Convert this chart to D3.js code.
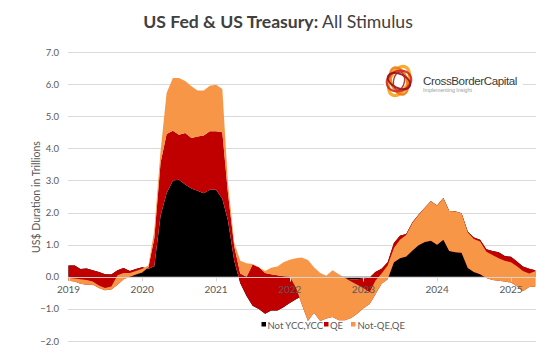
<!DOCTYPE html>
<html><head><meta charset="utf-8">
<script src="https://cdn.jsdelivr.net/npm/d3@7"></script>
<style>html,body{margin:0;padding:0;background:#fff;} svg{display:block;}</style>
</head><body>
<svg id="chart" width="553" height="359"></svg>
<script>
// ---------- data (US$ trillions, monthly Jan 2019 .. May 2025) ----------
const startMonth = "2019-01";
const endMonth = "2025-05";
const seriesNames = ["Not YCC,YCC", "QE", "Not-QE,QE"];
const notYcc = [0.35,0.35,0.24,0.26,0.20,0.15,0.08,0.07,0.20,0.27,0.18,0.24,
  0.30,0.25,0.33,1.90,2.60,3.00,3.02,2.87,2.75,2.68,2.60,2.71,
  2.71,2.43,1.75,0.50,-0.20,-0.60,-0.90,-1.00,-1.15,-1.05,-1.05,-0.95,
  -0.82,-0.70,-0.60,-0.40,-0.40,-0.40,-0.40,-0.40,-0.40,-0.05,-0.08,-0.08,
  -0.05,-0.02,0.15,0.25,0.45,1.05,1.28,1.33,1.70,1.93,2.15,2.35,
  2.22,2.45,2.05,2.03,1.98,1.40,1.22,1.15,0.86,0.80,0.76,0.65,
  0.62,0.47,0.32,0.25,0.20];
const qe = [-0.47,-0.50,-0.46,-0.51,-0.44,-0.50,-0.50,-0.47,-0.45,-0.35,-0.18,-0.17,
  -0.17,0.05,0.87,1.65,1.85,1.55,1.40,1.61,1.57,1.69,1.80,1.82,
  1.82,2.07,0.85,0.45,0.30,0.60,1.28,1.30,1.27,1.13,1.10,0.97,
  0.82,0.35,-0.25,-0.98,-0.72,-0.98,-0.90,-0.85,-0.95,-1.30,-1.20,-1.07,
  -0.93,-0.83,-0.70,-0.47,-0.53,-0.60,-0.70,-0.70,-0.88,-0.95,-1.07,-1.23,
  -1.22,-1.30,-1.25,-1.27,-1.23,-1.13,-1.07,-1.07,-0.90,-0.90,-0.88,-0.80,
  -0.80,-0.77,-0.77,-0.57,-0.50];
const notQe = [0.09,0.10,0.14,0.15,0.09,0.08,0.07,0.10,0.30,0.20,0.12,0.11,
  0.12,0.05,0.25,0.35,1.27,1.64,1.77,1.62,1.61,1.43,1.40,1.42,
  1.45,1.35,0.30,0.10,0.40,0.42,0.02,0.00,0.06,0.20,0.27,0.43,
  0.53,0.93,1.45,1.90,1.42,1.50,1.33,1.45,1.43,1.31,1.13,0.90,
  0.63,0.37,0.43,0.32,0.43,0.45,0.57,0.67,0.86,0.94,1.07,1.23,
  1.22,1.30,1.25,1.27,1.23,1.11,1.03,1.02,0.82,0.78,0.70,0.65,
  0.63,0.62,0.63,0.42,0.47];
const yearLabels = ["2019","2020","2021","2022","2023","2024","2025"];
const yTicks = [-2,-1,0,1,2,3,4,5,6,7];

// ---------- setup ----------
const svg = d3.select("#chart");
const parseM = d3.timeParse("%Y-%m");
const dates = d3.timeMonth.range(parseM(startMonth), d3.timeMonth.offset(parseM(endMonth), 1));
const rows = dates.map((d, i) => ({date: d, a: notYcc[i], b: qe[i], c: notQe[i]}));

const x = d3.scaleTime()
  .domain([new Date(2019,0,1), new Date(2025,0,1)])
  .range([68.5, 511]);
const y = d3.scaleLinear().domain([-2, 7]).range([341, 52]);
const gridX0 = 68, gridX1 = 536;
const colors = ["#000000", "#c00000", "#f79646"];
const font = "Lato, 'Open Sans', sans-serif";
const grey = "#595959";

// gridlines (behind)
svg.append("g").selectAll("line").data(yTicks.filter(t => t !== 0)).join("line")
  .attr("x1", gridX0).attr("x2", gridX1)
  .attr("y1", d => Math.round(y(d)) + 0.5).attr("y2", d => Math.round(y(d)) + 0.5)
  .attr("stroke", "#d9d9d9").attr("stroke-width", 1);

// stacked areas (Excel-like cumulative stacking, drawn in order)
const stack = d3.stack().keys(["a","b","c"]).order(d3.stackOrderNone).offset(d3.stackOffsetNone);
const layers = stack(rows);
const area = d3.area()
  .x(d => x(d.data.date))
  .y0(d => y(d[0]))
  .y1(d => y(d[1]));
svg.append("g").selectAll("path").data(layers).join("path")
  .attr("d", area).attr("fill", (d, i) => colors[i]);

// zero axis line on top
const y0px = Math.round(y(0)) + 0.5;
svg.append("line").attr("x1", gridX0).attr("x2", gridX1)
  .attr("y1", y0px).attr("y2", y0px)
  .attr("stroke", "#d9d9d9").attr("stroke-width", 1).attr("opacity", 0.9);

// x ticks & labels
const yearDates = yearLabels.map(s => new Date(+s, 0, 1));
svg.append("g").selectAll("line").data(yearDates).join("line")
  .attr("x1", d => Math.round(x(d)) + 0.5).attr("x2", d => Math.round(x(d)) + 0.5)
  .attr("y1", y0px).attr("y2", y0px + 4)
  .attr("stroke", "#d9d9d9");
svg.append("g").selectAll("text").data(yearDates).join("text")
  .attr("x", d => x(d)).attr("y", y0px + 15)
  .attr("text-anchor", "middle")
  .attr("font-family", font).attr("font-size", 10).attr("fill", grey)
  .text((d, i) => yearLabels[i]);

// y labels
svg.append("g").selectAll("text").data(yTicks).join("text")
  .attr("x", 59).attr("y", d => y(d) + 3.5)
  .attr("text-anchor", "end")
  .attr("font-family", font).attr("font-size", 9.5).attr("fill", grey)
  .text(d => d3.format(".1f")(d));

// y title
svg.append("text")
  .attr("transform", "translate(40,197) rotate(-90)")
  .attr("text-anchor", "middle")
  .attr("font-family", font).attr("font-size", 10.5).attr("fill", grey)
  .text("US$ Duration in Trillions");

// legend
const legendItems = [
  {sx: 261.5, tx: 267.5},
  {sx: 324, tx: 330},
  {sx: 351, tx: 357.5}
];
const lg = svg.append("g");
legendItems.forEach((it, i) => {
  lg.append("rect").attr("x", it.sx).attr("y", 322).attr("width", 4.5).attr("height", 4.5)
    .attr("fill", colors[i]);
  lg.append("text").attr("x", it.tx).attr("y", 328.5)
    .attr("font-family", font).attr("font-size", 9.5).attr("fill", grey)
    .text(seriesNames[i]);
});

// logo
const logo = svg.append("g");
logo.append("rect").attr("x", 384).attr("y", 60).attr("width", 139).attr("height", 42).attr("fill", "#fff");
const cx = 399, cy = 81;
[
  {rx: 9, ry: 15.5, rot: 25, c: "#f6a21a", w: 3.2},
  {rx: 8, ry: 14, rot: -20, c: "#ee7a12", w: 2.6},
  {rx: 10, ry: 12.5, rot: 70, c: "#d2281e", w: 2.2},
  {rx: 7, ry: 12, rot: -65, c: "#8e1020", w: 1.8},
  {rx: 5.5, ry: 9, rot: 10, c: "#b51d1f", w: 1.4}
].forEach(e => {
  logo.append("ellipse").attr("cx", cx).attr("cy", cy).attr("rx", e.rx).attr("ry", e.ry)
    .attr("transform", `rotate(${e.rot},${cx},${cy})`)
    .attr("fill", "none").attr("stroke", e.c).attr("stroke-width", e.w).attr("opacity", 0.9);
});
const lt = logo.append("text").attr("x", 423).attr("y", 84.5)
  .attr("font-family", "'Liberation Sans', Arial, sans-serif").attr("font-size", 11.5)
  .attr("fill", "#3a3a3a").attr("letter-spacing", -0.4)
  .text("CrossBorderCapital");
const lw = lt.node().getComputedTextLength();
if (lw > 0) lt.attr("textLength", 94).attr("lengthAdjust", "spacingAndGlyphs");
logo.append("text").attr("x", 423).attr("y", 91.5)
  .attr("font-family", "'Liberation Sans', Arial, sans-serif").attr("font-size", 5.8)
  .attr("fill", "#9a9a9a").attr("textLength", 49).attr("lengthAdjust", "spacingAndGlyphs")
  .text("Implementing Insight");

// title
const title = svg.append("text").attr("x", 278).attr("y", 28)
  .attr("text-anchor", "middle").attr("font-family", font).attr("fill", "#404040");
title.append("tspan").attr("font-weight", "bold").text("US Fed & US Treasury:");
title.append("tspan").text(" All Stimulus");
let fs = 19;
title.attr("font-size", fs);
const tw = title.node().getComputedTextLength();
if (tw > 0) { fs = fs * 270 / tw; title.attr("font-size", fs); }
</script>
</body></html>
